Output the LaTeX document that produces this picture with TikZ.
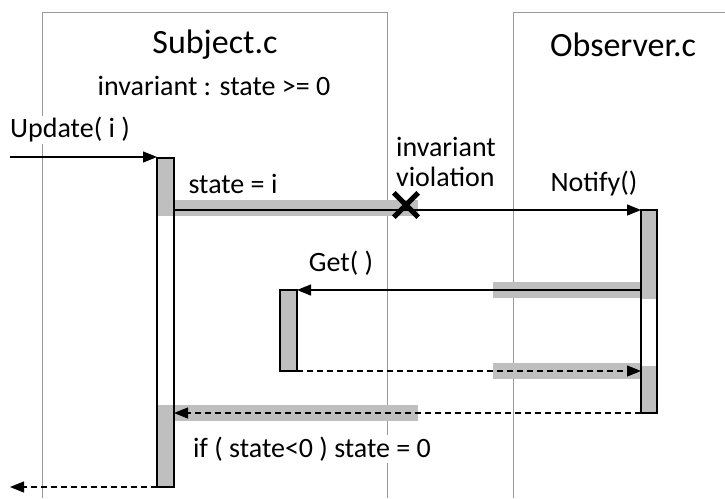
\documentclass[tikz,border=0pt]{standalone}
\usepackage{fontspec}
\setmainfont{Carlito}
\usetikzlibrary{arrows.meta}
\begin{document}
\begin{tikzpicture}[x=1pt,y=-1pt,
  life/.style={draw=black!40, line width=1pt},
  barbox/.style={draw=black, line width=1.2pt, inner sep=0pt, outer sep=0pt, anchor=north west},
  msg/.style={line width=1.2pt, -{Triangle[length=14pt,width=11pt]}},
  ret/.style={msg, dash pattern=on 6pt off 4pt},
  lbl/.style={fill=white, inner sep=2pt, font=\fontsize{28}{30}\selectfont},
  ttl/.style={inner sep=0pt, font=\fontsize{34}{38}\selectfont}]
\useasboundingbox (0,0) rectangle (725,498);
% lifelines (frames)
\draw[life] (42,498) -- (42,12) -- (387,12) -- (387,498);
\draw[life] (513,498) -- (513,12) -- (726,12);
% titles
\node[ttl] (subj) at (215,45) {Subject.c};
\node[ttl] (obs) at (623,45) {Observer.c};
\node[lbl, inner sep=0pt] (inv) at (214,86) {invariant : state >= 0};
% labels with white backgrounds
\node[lbl, anchor=west] (updl) at (8,130) {Update( i )};
\node[lbl] (statel) at (233,184) {state = i};
\node[lbl, align=left, font=\fontsize{28}{30}\selectfont] (viol) at (446,162) {invariant\\violation};
\node[lbl] (notl) at (594,184) {Notify()};
\node[lbl] (getl) at (341,263) {Get( )};
\node[lbl] (ifl) at (312,449) {if ( state<0 ) state = 0};
% gray bands
\fill[black!25] (157,158) rectangle (174,216);
\fill[black!25] (174,200) rectangle (418,216);
\fill[black!25] (493,282) rectangle (641,298);
\fill[black!25] (493,363) rectangle (641,379);
\fill[black!25] (174,405) rectangle (418,421);
\fill[black!25] (157,405) rectangle (174,487);
\fill[black!25] (641,210) rectangle (657,299);
\fill[black!25] (641,366) rectangle (657,413);
\fill[black!25] (280,290) rectangle (297,371);
% activation bars
\node[barbox, minimum width=17pt, minimum height=329pt] (sbar) at (157,158) {};
\node[barbox, minimum width=16pt, minimum height=203pt] (obar) at (641,210) {};
\node[barbox, minimum width=17pt, minimum height=81pt] (gbar) at (280,290) {};
% end points
\coordinate (upd) at (10,157);
\coordinate (fin) at (10,487);
% messages
\draw[msg] (upd) -- (upd -| sbar.west);
\draw[msg] (sbar.east |- obar.north) -- (obar.north west);
\draw[msg] (obar.west |- gbar.north) -- (gbar.north east);
\draw[ret] (gbar.south east) -- (gbar.south east -| obar.west);
\draw[ret] (obar.south west) -- (obar.south west -| sbar.east);
\draw[ret] (sbar.south west) -- (fin);
% invariant violation cross
\node[inner sep=0pt, minimum size=24pt] (xm) at (406,205) {};
\draw[line width=5pt] (xm.north west) -- (xm.south east);
\draw[line width=5pt] (xm.north east) -- (xm.south west);
\end{tikzpicture}
\end{document}
